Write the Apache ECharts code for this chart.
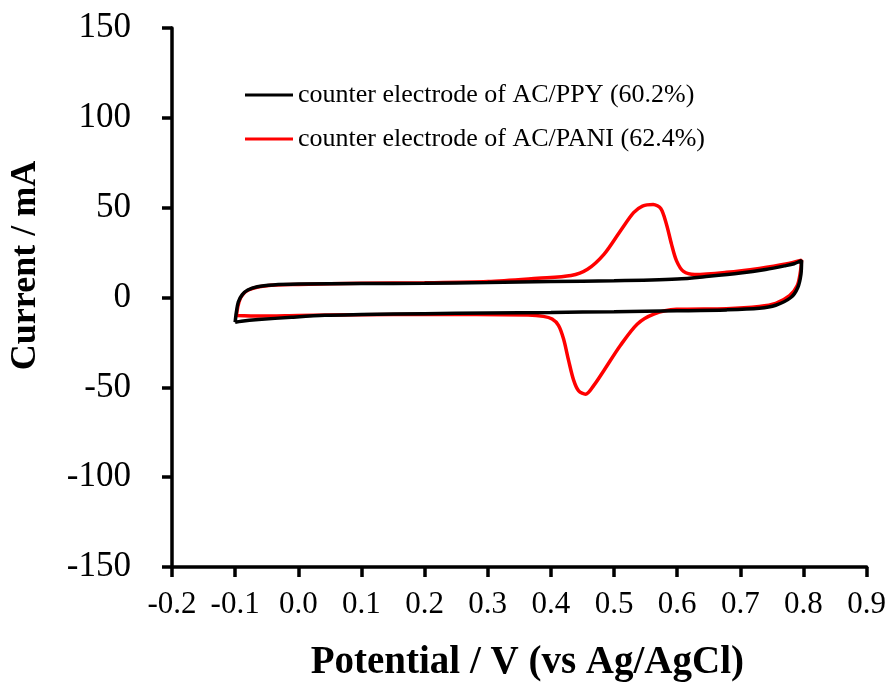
<!DOCTYPE html>
<html>
<head>
<meta charset="utf-8">
<title>CV curves</title>
<script src="https://cdn.jsdelivr.net/npm/echarts@6/dist/echarts.min.js"></script>
<style>
  html, body { margin: 0; padding: 0; background: #ffffff; }
  #chart { width: 889px; height: 687px; }
</style>
</head>
<body>
<div id="chart"></div>
<script>
// axis ticks
var xTicks = [-0.2, -0.1, 0.0, 0.1, 0.2, 0.3, 0.4, 0.5, 0.6, 0.7, 0.8, 0.9];
var yTicks = [-150, -100, -50, 0, 50, 100, 150];

var seriesNames = ['counter electrode of AC/PPY (60.2%)', 'counter electrode of AC/PANI (62.4%)'];

// AC/PPY loop: anodic sweep -0.1 -> 0.8 V, then cathodic sweep back
var ppyPotential = [-0.100, -0.098, -0.095, -0.089, -0.080, -0.065, -0.040, 0.0, 0.10, 0.20, 0.30, 0.40, 0.50, 0.60, 0.65, 0.70, 0.74, 0.77, 0.785, 0.797,
  0.796, 0.791, 0.780, 0.756, 0.730, 0.678, 0.60, 0.50, 0.40, 0.30, 0.20, 0.10, 0.042, -0.011, -0.063, -0.090, -0.100];
var ppyCurrent = [-13.8, -8.0, -2.5, 1.5, 4.2, 6.0, 7.0, 7.5, 7.8, 7.9, 8.3, 8.9, 9.3, 10.3, 11.8, 13.6, 15.6, 17.6, 18.8, 20.6,
  13.0, 5.6, 0.0, -4.3, -6.0, -6.9, -7.4, -7.9, -8.3, -8.6, -9.0, -9.5, -9.9, -11.0, -12.3, -13.2, -13.8];

// AC/PANI loop
var paniPotential = [-0.098, -0.096, -0.093, -0.087, -0.078, -0.062, -0.035, 0.0, 0.10, 0.20, 0.30, 0.379, 0.432, 0.458, 0.484, 0.510, 0.531, 0.545, 0.562, 0.574, 0.583, 0.591, 0.599, 0.610, 0.628, 0.678, 0.730, 0.772, 0.797,
  0.795, 0.790, 0.778, 0.756, 0.730, 0.678, 0.599, 0.563, 0.537, 0.510, 0.484, 0.468, 0.455, 0.444, 0.436, 0.428, 0.420, 0.412, 0.402, 0.388, 0.364, 0.20, 0.10, 0.0, -0.060, -0.098];
var paniCurrent = [-10.0, -5.5, -1.5, 2.0, 4.3, 6.0, 7.0, 7.3, 7.9, 8.2, 8.9, 10.7, 12.2, 15.7, 24.0, 37.0, 47.2, 50.9, 51.8, 49.5, 40.8, 29.7, 20.4, 14.5, 12.8, 14.0, 16.2, 18.6, 20.8,
  14.0, 6.5, 1.0, -3.3, -5.0, -6.2, -6.6, -9.2, -14.7, -26.7, -40.6, -48.9, -53.8, -52.0, -46.0, -35.0, -23.0, -15.5, -12.0, -10.5, -9.8, -9.3, -9.6, -10.0, -10.3, -10.0];

function pairs(xs, ys) {
  var out = [];
  for (var i = 0; i < xs.length; i++) {
    out.push([xs[i], ys[i]]);
  }
  return out;
}

var font = 'Liberation Serif';
var chart = echarts.init(document.getElementById('chart'), null, { renderer: 'canvas' });

var option = {
  backgroundColor: '#ffffff',
  animation: false,
  grid: { left: 171, right: 18, top: 28, bottom: 118, containLabel: false },
  legend: {
    orient: 'vertical',
    left: 245,
    top: 82,
    padding: 0,
    itemWidth: 48,
    itemHeight: 3,
    itemGap: 18,
    icon: 'rect',
    data: seriesNames,
    textStyle: { fontFamily: font, fontSize: 26, color: '#000' }
  },
  xAxis: {
    type: 'value',
    min: xTicks[0],
    max: xTicks[xTicks.length - 1],
    interval: 0.1,
    name: 'Potential / V (vs Ag/AgCl)',
    nameLocation: 'middle',
    nameGap: 76,
    nameTextStyle: { fontFamily: font, fontSize: 39, fontWeight: 'bold', color: '#000', padding: [0, 0, 0, 16] },
    axisLine: { onZero: false, lineStyle: { color: '#000', width: 3.5 } },
    axisTick: { show: true, inside: false, length: 10, lineStyle: { color: '#000', width: 3.5 } },
    axisLabel: {
      fontFamily: font, fontSize: 31, color: '#000', margin: 22,
      formatter: function (v) { return v.toFixed(1); }
    },
    splitLine: { show: false }
  },
  yAxis: {
    type: 'value',
    min: yTicks[0],
    max: yTicks[yTicks.length - 1],
    interval: 50,
    name: 'Current / mA',
    nameLocation: 'middle',
    nameRotate: 90,
    nameGap: 128,
    nameTextStyle: { fontFamily: font, fontSize: 36, fontWeight: 'bold', color: '#000', padding: [0, 0, 0, 64] },
    axisLine: { show: true, onZero: false, lineStyle: { color: '#000', width: 3.5 } },
    axisTick: { show: true, inside: false, length: 10, lineStyle: { color: '#000', width: 3.5 } },
    axisLabel: { fontFamily: font, fontSize: 35, color: '#000', margin: 41 },
    splitLine: { show: false }
  },
  series: [{
    name: seriesNames[0],
    type: 'line',
    z: 3,
    data: pairs(ppyPotential, ppyCurrent),
    smooth: 0.3,
    symbol: 'none',
    color: '#000000',
    lineStyle: { color: '#000000', width: 3.5 }
  }, {
    name: seriesNames[1],
    type: 'line',
    z: 2,
    data: pairs(paniPotential, paniCurrent),
    smooth: 0.3,
    symbol: 'none',
    color: '#ff0000',
    lineStyle: { color: '#ff0000', width: 3.5 }
  }]
};

chart.setOption(option);
</script>
</body>
</html>
